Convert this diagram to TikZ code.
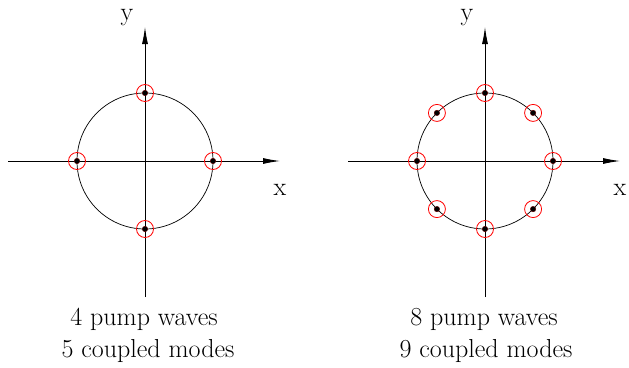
\documentclass[tikz,border=0pt]{standalone}
\usetikzlibrary{arrows.meta,calc}
\begin{document}
\begin{tikzpicture}[x=1pt,y=-1pt,
  axis/.style={line width=0.9pt,-{Latex[length=17pt,width=6pt]}},
  ring/.style={line width=0.7pt},
  pumpmark/.style={circle,draw=red,line width=0.8pt,minimum size=17pt,inner sep=0pt},
  dotmark/.style={circle,fill=black,draw=red!40!black,line width=0.4pt,minimum size=5.5pt,inner sep=0pt},
  lbl/.style={font=\fontsize{26}{31}\selectfont,inner sep=0pt,anchor=base}]
\useasboundingbox (0,0) rectangle (629,367);
% left diagram
\coordinate (L) at (145,161);
\coordinate (Lxs) at (8,161);
\coordinate (Lxe) at (280,161);
\coordinate (Lys) at (145,297);
\coordinate (Lye) at (145,27);
\draw[axis] (Lxs) -- (Lxe);
\draw[axis] (Lys) -- (Lye);
\draw[ring] (L) circle[radius=68];
\foreach \a [count=\i] in {0,90,180,270}{
  \node[pumpmark] (lp\i) at ($(L)+(\a:68 and -68)$) {};
  \node[dotmark] (ld\i) at (lp\i) {};
}
\node[lbl] (Lx) at (280,195) {x};
\node[lbl] (Ly) at (127,20) {y};
\node[lbl] (Lt1) at (144,325) {4 pump waves};
\node[lbl] (Lt2) at (148,357) {5 coupled modes};
% right diagram
\coordinate (R) at (485,161);
\coordinate (Rxs) at (348,161);
\coordinate (Rxe) at (620,161);
\coordinate (Rys) at (485,297);
\coordinate (Rye) at (485,27);
\draw[axis] (Rxs) -- (Rxe);
\draw[axis] (Rys) -- (Rye);
\draw[ring] (R) circle[radius=68];
\foreach \a [count=\i] in {0,45,...,315}{
  \node[pumpmark] (rp\i) at ($(R)+(\a:68 and -68)$) {};
  \node[dotmark] (rd\i) at (rp\i) {};
}
\node[lbl] (Rx) at (620,195) {x};
\node[lbl] (Ry) at (467,20) {y};
\node[lbl] (Rt1) at (484,325) {8 pump waves};
\node[lbl] (Rt2) at (486,357) {9 coupled modes};
\end{tikzpicture}
\end{document}
